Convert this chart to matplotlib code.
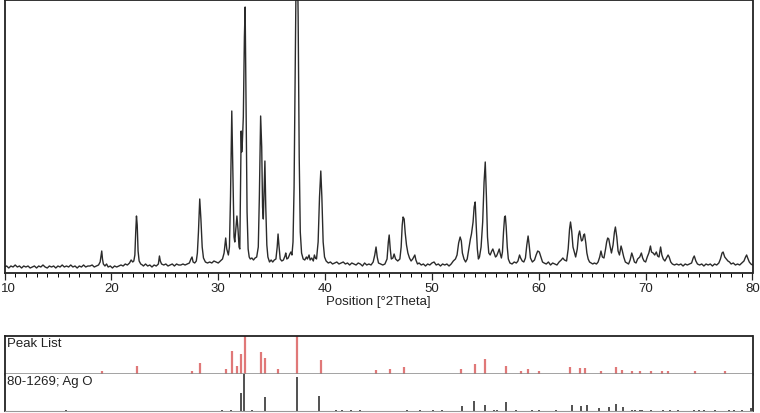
import matplotlib.pyplot as plt
from matplotlib.ticker import MultipleLocator, FuncFormatter

plt.rcParams["font.family"] = ["Liberation Sans", "DejaVu Sans"]
plt.rcParams["font.size"] = 9.5

# Scan: (2Theta, intensity above background, arb. units)
scan_10_22 = [
    (10.0, 0), (10.2, 1), (10.4, -1), (10.6, 1), (10.8, 0), (11.0, 2), (11.2, 0), (11.4, 1),
    (11.6, -1), (11.8, 1), (12.0, 0), (12.2, 1), (12.4, -1), (12.6, 0), (12.8, 1), (13.0, -1),
    (13.2, 1), (13.4, 0), (13.6, 2), (13.8, 0), (14.0, -1), (14.2, 1), (14.4, 0), (14.6, 1),
    (14.8, -1), (15.0, 1), (15.2, 0), (15.4, 2), (15.6, 0), (15.8, 1), (16.0, 0), (16.2, 2),
    (16.4, 0), (16.6, 1), (16.8, -1), (17.0, 1), (17.2, 0), (17.4, 2), (17.6, 0), (17.8, 1),
    (18.0, 1), (18.2, 2), (18.4, 0), (18.6, 1), (18.8, 2), (18.95, 5), (19.05, 12), (19.1, 16),
    (19.17, 8), (19.25, 3), (19.4, 1), (19.55, 3), (19.7, 0), (19.9, 1), (20.1, -1), (20.3, 1),
    (20.5, 0), (20.7, 1), (20.9, 2), (21.1, 1), (21.3, 3), (21.5, 2), (21.7, 4), (21.85, 7),
]
scan_22_33 = [
    (22.0, 5), (22.1, 6), (22.2, 12), (22.28, 35), (22.35, 51), (22.42, 42), (22.5, 16), (22.6, 6),
    (22.75, 3), (22.9, 2), (23.0, 1), (23.2, 3), (23.4, 1), (23.6, 2), (23.8, 0), (24.0, 2),
    (24.2, 1), (24.4, 3), (24.5, 11), (24.58, 6), (24.7, 3), (24.9, 2), (25.1, 3), (25.3, 1),
    (25.5, 2), (25.7, 3), (25.9, 1), (26.1, 3), (26.3, 2), (26.5, 2), (26.7, 3), (26.9, 2),
    (27.1, 3), (27.3, 4), (27.45, 8), (27.55, 10), (27.65, 5), (27.8, 4), (27.95, 6), (28.05, 14),
    (28.15, 35), (28.27, 68), (28.38, 48), (28.5, 20), (28.62, 9), (28.8, 5), (29.0, 4), (29.2, 5),
    (29.4, 4), (29.6, 6), (29.8, 5), (30.0, 4), (30.2, 6), (30.4, 8), (30.55, 14), (30.7, 29),
    (30.8, 18), (30.95, 12), (31.05, 20), (31.15, 70), (31.27, 156), (31.35, 110), (31.48, 30),
    (31.55, 25), (31.65, 38), (31.75, 51), (31.85, 38), (31.95, 20), (32.02, 18), (32.08, 70),
    (32.15, 136), (32.2, 115), (32.26, 125), (32.35, 150), (32.45, 230), (32.52, 260), (32.6, 170),
    (32.7, 55), (32.8, 18), (32.9, 10),
]
scan_33_45 = [
    (33.0, 8), (33.15, 9), (33.3, 7), (33.45, 9), (33.6, 10), (33.75, 20), (33.85, 70), (33.97, 151),
    (34.07, 120), (34.15, 60), (34.22, 48), (34.3, 80), (34.37, 106), (34.45, 60), (34.55, 22),
    (34.65, 10), (34.8, 5), (34.95, 7), (35.1, 5), (35.25, 7), (35.4, 8), (35.52, 20), (35.6, 33),
    (35.68, 22), (35.8, 8), (35.95, 6), (36.1, 7), (36.25, 11), (36.32, 14), (36.42, 8), (36.55, 9),
    (36.7, 13), (36.8, 15), (36.9, 12), (37.0, 25), (37.1, 80), (37.22, 220), (37.3, 300),
    (37.4, 320), (37.48, 250), (37.58, 110), (37.68, 35), (37.8, 14), (37.95, 8), (38.1, 7),
    (38.25, 10), (38.35, 8), (38.5, 12), (38.6, 7), (38.75, 9), (38.9, 6), (39.0, 12), (39.1, 9),
    (39.2, 8), (39.35, 25), (39.48, 70), (39.6, 96), (39.7, 70), (39.82, 25), (39.95, 10),
    (40.1, 6), (40.3, 4), (40.5, 5), (40.7, 3), (40.9, 4), (41.1, 5), (41.3, 3), (41.5, 4),
    (41.7, 5), (41.9, 3), (42.1, 4), (42.3, 2), (42.5, 4), (42.7, 3), (42.9, 2), (43.1, 4),
    (43.3, 3), (43.5, 1), (43.7, 4), (43.9, 2), (44.1, 3), (44.3, 2), (44.5, 5), (44.65, 12),
    (44.77, 20), (44.88, 10),
]
scan_45_60 = [
    (45.0, 4), (45.2, 3), (45.4, 2), (45.6, 3), (45.8, 8), (45.92, 25), (46.0, 32), (46.1, 18),
    (46.2, 8), (46.35, 9), (46.46, 13), (46.6, 8), (46.8, 6), (47.0, 8), (47.12, 20), (47.22, 42),
    (47.3, 50), (47.4, 48), (47.5, 34), (47.62, 22), (47.75, 14), (47.9, 9), (48.05, 6), (48.2, 8),
    (48.4, 12), (48.5, 7), (48.65, 3), (48.8, 4), (49.0, 2), (49.2, 3), (49.4, 1), (49.6, 3),
    (49.8, 2), (50.0, 4), (50.2, 5), (50.4, 2), (50.6, 3), (50.8, 1), (51.0, 3), (51.2, 2),
    (51.4, 3), (51.6, 1), (51.8, 3), (52.0, 6), (52.2, 8), (52.35, 12), (52.5, 24), (52.64, 30),
    (52.75, 26), (52.85, 14), (53.0, 8), (53.15, 5), (53.3, 8), (53.45, 18), (53.6, 28), (53.7, 33),
    (53.85, 45), (53.95, 60), (54.05, 65), (54.15, 40), (54.25, 18), (54.35, 8), (54.45, 10),
    (54.6, 20), (54.75, 45), (54.88, 85), (54.99, 105), (55.1, 70), (55.2, 30), (55.32, 14),
    (55.45, 12), (55.6, 16), (55.7, 18), (55.82, 14), (55.95, 10), (56.05, 11), (56.2, 15),
    (56.3, 18), (56.4, 13), (56.5, 9), (56.6, 15), (56.7, 35), (56.8, 50), (56.87, 51), (56.95, 40),
    (57.05, 20), (57.15, 8), (57.3, 4), (57.5, 3), (57.7, 5), (57.9, 4), (58.05, 6), (58.2, 12),
    (58.3, 9), (58.45, 6), (58.6, 5), (58.75, 9), (58.88, 22), (59.0, 31), (59.1, 22), (59.22, 9),
    (59.4, 5), (59.6, 7), (59.75, 12), (59.9, 16),
]
scan_60_80 = [
    (60.05, 15), (60.2, 10), (60.35, 5), (60.5, 4), (60.7, 3), (60.9, 5), (61.1, 2), (61.3, 4),
    (61.5, 3), (61.7, 2), (61.9, 5), (62.1, 7), (62.25, 9), (62.4, 7), (62.6, 6), (62.75, 18),
    (62.88, 38), (62.97, 45), (63.08, 36), (63.2, 20), (63.3, 16), (63.45, 10), (63.6, 18),
    (63.72, 32), (63.82, 36), (63.92, 30), (64.0, 26), (64.1, 27), (64.2, 32), (64.28, 33),
    (64.4, 24), (64.5, 14), (64.62, 8), (64.75, 5), (64.9, 4), (65.05, 3), (65.2, 4), (65.4, 3),
    (65.55, 5), (65.7, 10), (65.82, 16), (65.95, 10), (66.1, 9), (66.25, 18), (66.35, 25),
    (66.45, 29), (66.55, 28), (66.65, 22), (66.8, 14), (66.95, 22), (67.08, 35), (67.17, 40),
    (67.3, 30), (67.42, 16), (67.55, 12), (67.7, 21), (67.8, 17), (67.95, 10), (68.1, 5),
    (68.25, 4), (68.4, 3), (68.55, 7), (68.7, 14), (68.82, 10), (68.95, 5), (69.1, 4), (69.25, 8),
    (69.45, 10), (69.6, 14), (69.72, 9), (69.85, 6), (70.0, 5), (70.15, 10), (70.3, 14),
    (70.45, 21), (70.55, 15), (70.7, 14), (70.85, 12), (71.0, 15), (71.12, 11), (71.25, 10),
    (71.4, 20), (71.52, 12), (71.65, 8), (71.8, 6), (71.95, 9), (72.1, 12), (72.2, 10), (72.35, 5),
    (72.5, 3), (72.7, 2), (72.9, 3), (73.1, 2), (73.3, 3), (73.5, 1), (73.7, 3), (73.9, 2),
    (74.1, 3), (74.3, 4), (74.45, 9), (74.55, 11), (74.7, 6), (74.85, 3), (75.05, 2), (75.25, 3),
    (75.45, 1), (75.65, 3), (75.85, 2), (76.05, 3), (76.25, 1), (76.45, 3), (76.65, 2), (76.85, 4),
    (77.0, 8), (77.15, 14), (77.25, 15), (77.4, 10), (77.55, 8), (77.7, 6), (77.85, 5), (78.0, 3),
    (78.2, 4), (78.4, 2), (78.6, 3), (78.8, 2), (79.0, 4), (79.2, 6), (79.35, 10), (79.45, 12),
    (79.55, 9), (79.7, 5), (79.85, 3), (80.0, 2),
]

# Peak list (relative intensity, %)
peak_pos = [19.1, 22.4, 27.5, 28.3, 30.7, 31.3, 31.8, 32.15, 32.5, 34.0, 34.4, 35.6, 37.37, 39.6,
            44.8, 46.1, 47.4, 52.7, 54.05, 55.0, 56.9, 58.35, 59.0, 60.05, 62.95, 63.9, 64.35,
            65.85, 67.2, 67.8, 68.7, 69.5, 70.5, 71.5, 72.1, 74.6, 77.4]
peak_rel = [7, 21, 8, 29, 13, 60, 21, 53, 100, 58, 42, 13, 100, 37,
            10, 13, 18, 13, 26, 39, 21, 8, 13, 8, 18, 16, 16,
            8, 18, 10, 8, 8, 8, 8, 8, 8, 8]

# Reference pattern 80-1269; Ag O (relative intensity, %)
ref_pos = [15.8, 30.4, 31.2, 32.1, 32.4, 33.2, 34.37, 37.37, 39.45, 41.0, 41.6, 42.4, 43.3,
           47.7, 48.9, 50.1, 50.9, 52.8, 53.96, 55.0, 55.8, 56.1, 56.95, 57.9, 59.4, 60.0, 61.6,
           63.1, 63.97, 64.5, 65.6, 66.6, 67.2, 67.85, 68.7, 69.0, 69.5, 69.7, 70.5, 71.6, 72.3,
           73.0, 74.5, 75.0, 75.5, 76.5, 77.8, 78.3, 79.0, 79.9]
ref_rel = [3, 3, 3, 49, 100, 3, 38, 92, 41, 3, 3, 3, 3,
           3, 3, 3, 3, 14, 27, 16, 4, 4, 24, 3, 3, 3, 3,
           16, 14, 16, 8, 11, 19, 11, 4, 3, 4, 3, 3, 4, 3,
           3, 3, 3, 3, 3, 3, 3, 3, 8]

scan = scan_10_22 + scan_22_33 + scan_33_45 + scan_45_60 + scan_60_80
two_theta = [p[0] for p in scan]
counts = [p[1] for p in scan]

fig = plt.figure(figsize=(7.6, 4.14), dpi=100)
W, H = 760, 414
ax = fig.add_axes([4.5 / W, 1 - 274 / H, 748 / W, 273 / H])
ax_pk = fig.add_axes([4.5 / W, 1 - 375 / H, 748 / W, 38 / H])
ax_rf = fig.add_axes([4.5 / W, 1 - 412 / H, 748 / W, 37 / H])

# main scan
ax.plot(two_theta, counts, color="#2b2b2b", lw=1.0)
ax.set_xlim(10, 80)
ax.set_ylim(-6, 267)
ax.set_yticks([])
ax.xaxis.set_major_locator(MultipleLocator(10))
ax.xaxis.set_minor_locator(MultipleLocator(1))
# the "10" label is drawn separately so it stays inside the picture
ax.xaxis.set_major_formatter(FuncFormatter(lambda v, p: "" if v <= 10 else f"{v:.0f}"))
ax.tick_params(axis="x", which="major", direction="out", length=5, width=0.9, pad=1.5,
               labelsize=9.5, colors="#222")
ax.tick_params(axis="x", which="minor", direction="out", length=3, width=0.7)
ax.annotate("10", xy=(10, 0), xycoords=("data", "axes fraction"), xytext=(2.5, -6.5),
            textcoords="offset points", ha="center", va="top", fontsize=9.5, color="#222",
            annotation_clip=False)
for s in ax.spines.values():
    s.set_linewidth(1.3)
    s.set_color("#222")
ax.set_xlabel("Position [°2Theta]", fontsize=9.5, labelpad=1, color="#222")

# peak list panel
ax_pk.vlines(peak_pos, 0, peak_rel, color="#e07878", lw=1.6)
ax_pk.set_xlim(10, 80)
ax_pk.set_ylim(0, 100)
ax_pk.text(0.004, 0.97, "Peak List", transform=ax_pk.transAxes, ha="left", va="top",
           fontsize=9.5, color="#222")
for s in ["top", "left", "right"]:
    ax_pk.spines[s].set_linewidth(1.3)
    ax_pk.spines[s].set_color("#222")
ax_pk.spines["bottom"].set_color("#888")
ax_pk.spines["bottom"].set_linewidth(1.8)
ax_pk.set_xticks([])
ax_pk.set_yticks([])

# reference panel
ax_rf.vlines(ref_pos, 0, ref_rel, color="#333", lw=1.2)
ax_rf.set_xlim(10, 80)
ax_rf.set_ylim(0, 100)
ax_rf.text(0.004, 0.97, "80-1269; Ag O", transform=ax_rf.transAxes, ha="left", va="top",
           fontsize=9.5, color="#222")
ax_rf.spines["top"].set_visible(False)
ax_rf.spines["left"].set_linewidth(1.3)
ax_rf.spines["left"].set_color("#222")
ax_rf.spines["right"].set_linewidth(1.3)
ax_rf.spines["right"].set_color("#222")
ax_rf.spines["bottom"].set_color("#999")
ax_rf.spines["bottom"].set_linewidth(0.8)
ax_rf.set_xticks([])
ax_rf.set_yticks([])

fig.savefig("out.png", dpi=100)
